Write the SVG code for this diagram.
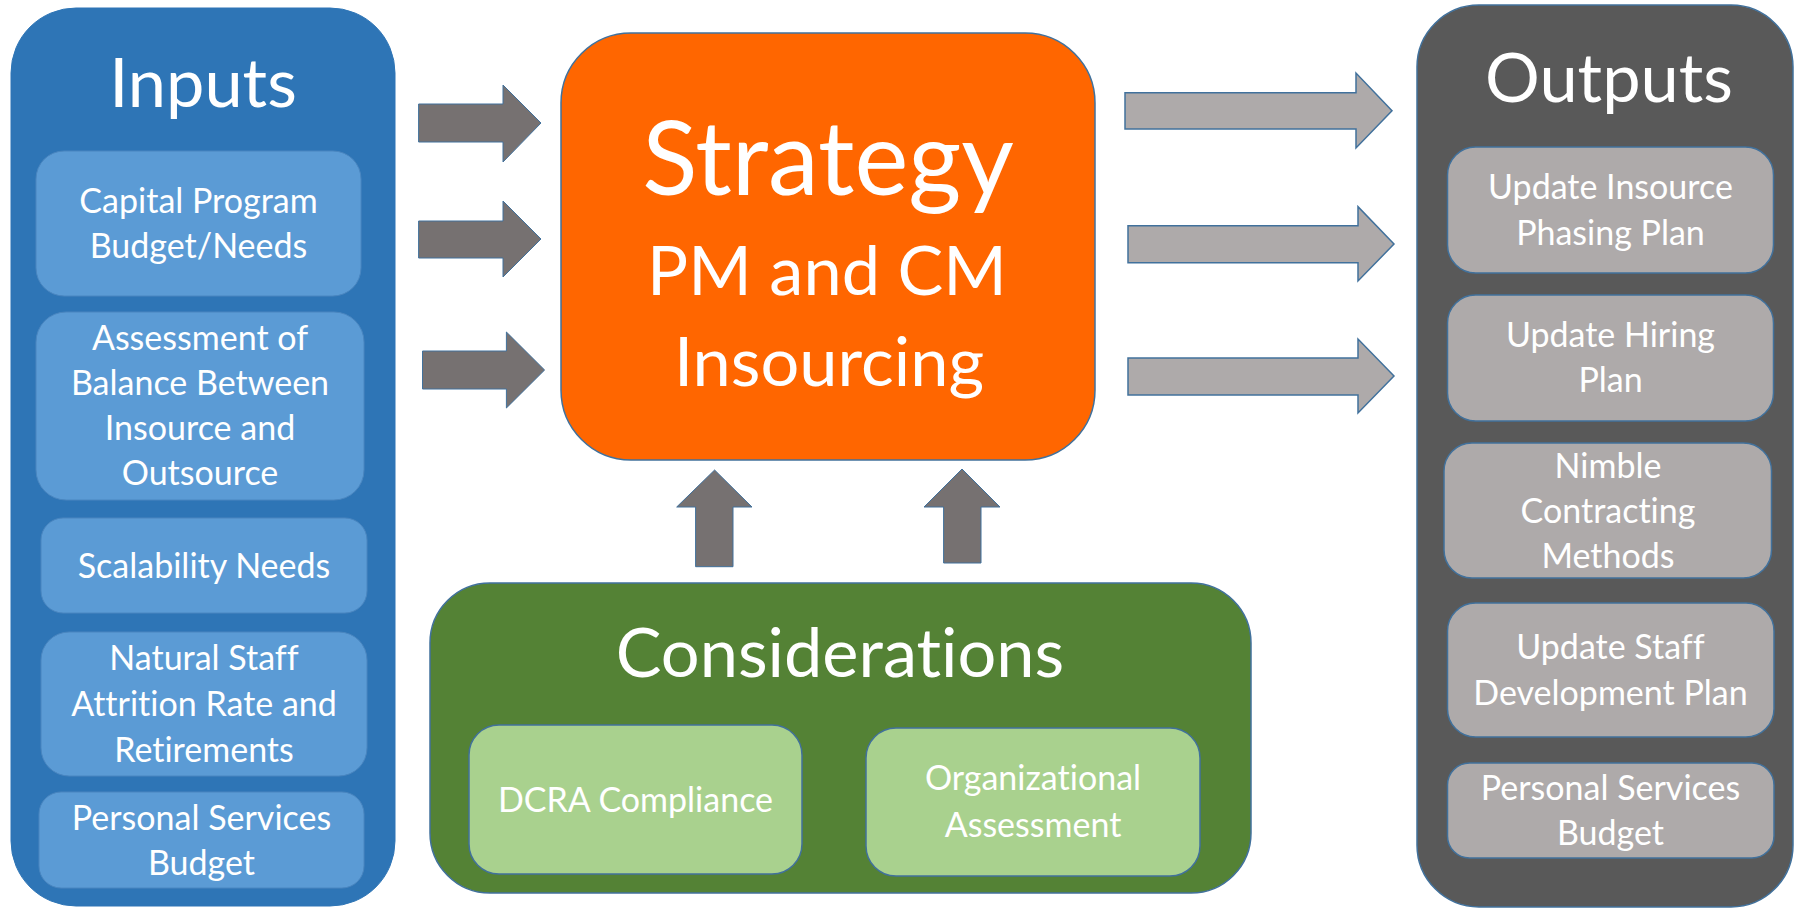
<svg xmlns="http://www.w3.org/2000/svg" width="1794" height="909" viewBox="0 0 1794 909">
<style>
text{font-family:Lato,"Open Sans","Liberation Sans",sans-serif;fill:#fff;text-anchor:middle;font-variant-ligatures:none;font-feature-settings:"liga" 0,"clig" 0}
.h{font-size:68.5px}
.b{font-size:34px}
.big{font-size:102px}
.edge{stroke:#41719C;stroke-width:1.5}
.inbox{fill:#5B9BD5;stroke:#4A86C0;stroke-width:1}
.outbox{fill:#AEAAAA;stroke:#41719C;stroke-width:1.5}
.gbox{fill:#A9D18E;stroke:#41719C;stroke-width:1.5}
.darrow{fill:#767171;stroke:#41719C;stroke-width:1}
.larrow{fill:#AEAAAA;stroke:#41719C;stroke-width:1.5}
</style>
<rect width="1794" height="909" fill="#fff"/>
<g id="inputs">
<rect x="11" y="8" width="384" height="898" rx="65" fill="#2E75B6" stroke="#2E75B6"/>
<text class="h" x="203" y="107">Inputs</text>
</g>
<g id="in-capital">
<rect class="inbox" x="36" y="151" width="325" height="145" rx="28"/>
<text class="b" x="198.5" y="213">Capital Program</text>
<text class="b" x="198.5" y="258">Budget/Needs</text>
</g>
<g id="in-assessment">
<rect class="inbox" x="36" y="312" width="328" height="188" rx="30"/>
<text class="b" x="200" y="350">Assessment of</text>
<text class="b" x="200" y="395">Balance Between</text>
<text class="b" x="200" y="440">Insource and</text>
<text class="b" x="200" y="485">Outsource</text>
</g>
<g id="in-scalability">
<rect class="inbox" x="41" y="518" width="326" height="95" rx="22"/>
<text class="b" x="204" y="578">Scalability Needs</text>
</g>
<g id="in-attrition">
<rect class="inbox" x="41" y="632" width="326" height="144" rx="28"/>
<text class="b" x="204" y="670">Natural Staff</text>
<text class="b" x="204" y="716">Attrition Rate and</text>
<text class="b" x="204" y="762">Retirements</text>
</g>
<g id="in-budget">
<rect class="inbox" x="39" y="792" width="325" height="96" rx="22"/>
<text class="b" x="201.5" y="830">Personal Services</text>
<text class="b" x="201.5" y="875">Budget</text>
</g>
<g id="strategy">
<rect class="edge" x="561" y="33" width="534" height="427" rx="70" fill="#FF6600"/>
<text class="big" x="828" y="195">Strategy</text>
<text class="h" x="827" y="295">PM and CM</text>
<text class="h" x="829" y="386">Insourcing</text>
</g>
<g id="considerations">
<rect class="edge" x="430" y="583" width="821" height="310" rx="60" fill="#548235"/>
<text class="h" x="840" y="677">Considerations</text>
</g>
<g id="c-dcra">
<rect class="gbox" x="469" y="725" width="333" height="149" rx="30"/>
<text class="b" x="635.5" y="812">DCRA Compliance</text>
</g>
<g id="c-org">
<rect class="gbox" x="866" y="728" width="334" height="148" rx="30"/>
<text class="b" x="1033" y="790">Organizational</text>
<text class="b" x="1033" y="837">Assessment</text>
</g>
<g id="outputs">
<rect class="edge" x="1417" y="5" width="376" height="902" rx="62" fill="#595959"/>
<text class="h" x="1609" y="102">Outputs</text>
</g>
<g id="out-phasing">
<rect class="outbox" x="1447.5" y="147" width="326" height="126" rx="28"/>
<text class="b" x="1610.5" y="199">Update Insource</text>
<text class="b" x="1610.5" y="245">Phasing Plan</text>
</g>
<g id="out-hiring">
<rect class="outbox" x="1447.5" y="295" width="326" height="126" rx="28"/>
<text class="b" x="1610.5" y="347">Update Hiring</text>
<text class="b" x="1610.5" y="392">Plan</text>
</g>
<g id="out-nimble">
<rect class="outbox" x="1444" y="443" width="327.5" height="135" rx="28"/>
<text class="b" x="1608" y="478">Nimble</text>
<text class="b" x="1608" y="523">Contracting</text>
<text class="b" x="1608" y="568">Methods</text>
</g>
<g id="out-staff">
<rect class="outbox" x="1447.5" y="603" width="326.5" height="134" rx="28"/>
<text class="b" x="1610.5" y="659">Update Staff</text>
<text class="b" x="1610.5" y="705">Development Plan</text>
</g>
<g id="out-budget">
<rect class="outbox" x="1447.5" y="763" width="326.5" height="95" rx="22"/>
<text class="b" x="1610.5" y="800">Personal Services</text>
<text class="b" x="1610.5" y="845">Budget</text>
</g>
<g id="connectors">
<polygon class="darrow" points="418.6,104 503,104 503,85 541,123 503,162 503,142 418.6,142"/>
<polygon class="darrow" points="418.6,221 503,221 503,201 541,239 503,277 503,258 418.6,258"/>
<polygon class="darrow" points="422.5,351 506.4,351 506.4,332 544.6,370 506.4,408 506.4,389 422.5,389"/>
<polygon class="darrow" points="714.6,470 752,507 733,507 733,566.7 695.6,566.7 695.6,507 676.7,507"/>
<polygon class="darrow" points="962,469 1000,507 981,507 981,563 943.6,563 943.6,507 924,507"/>
<polygon class="larrow" points="1125,92.7 1356,92.7 1356,73 1392,110.7 1356,148 1356,129 1125,129"/>
<polygon class="larrow" points="1128,225.7 1358,225.7 1358,206.7 1394,244 1358,281 1358,262.7 1128,262.7"/>
<polygon class="larrow" points="1128,358 1358,358 1358,339 1394,376 1358,413 1358,395 1128,395"/>
</g>
</svg>
